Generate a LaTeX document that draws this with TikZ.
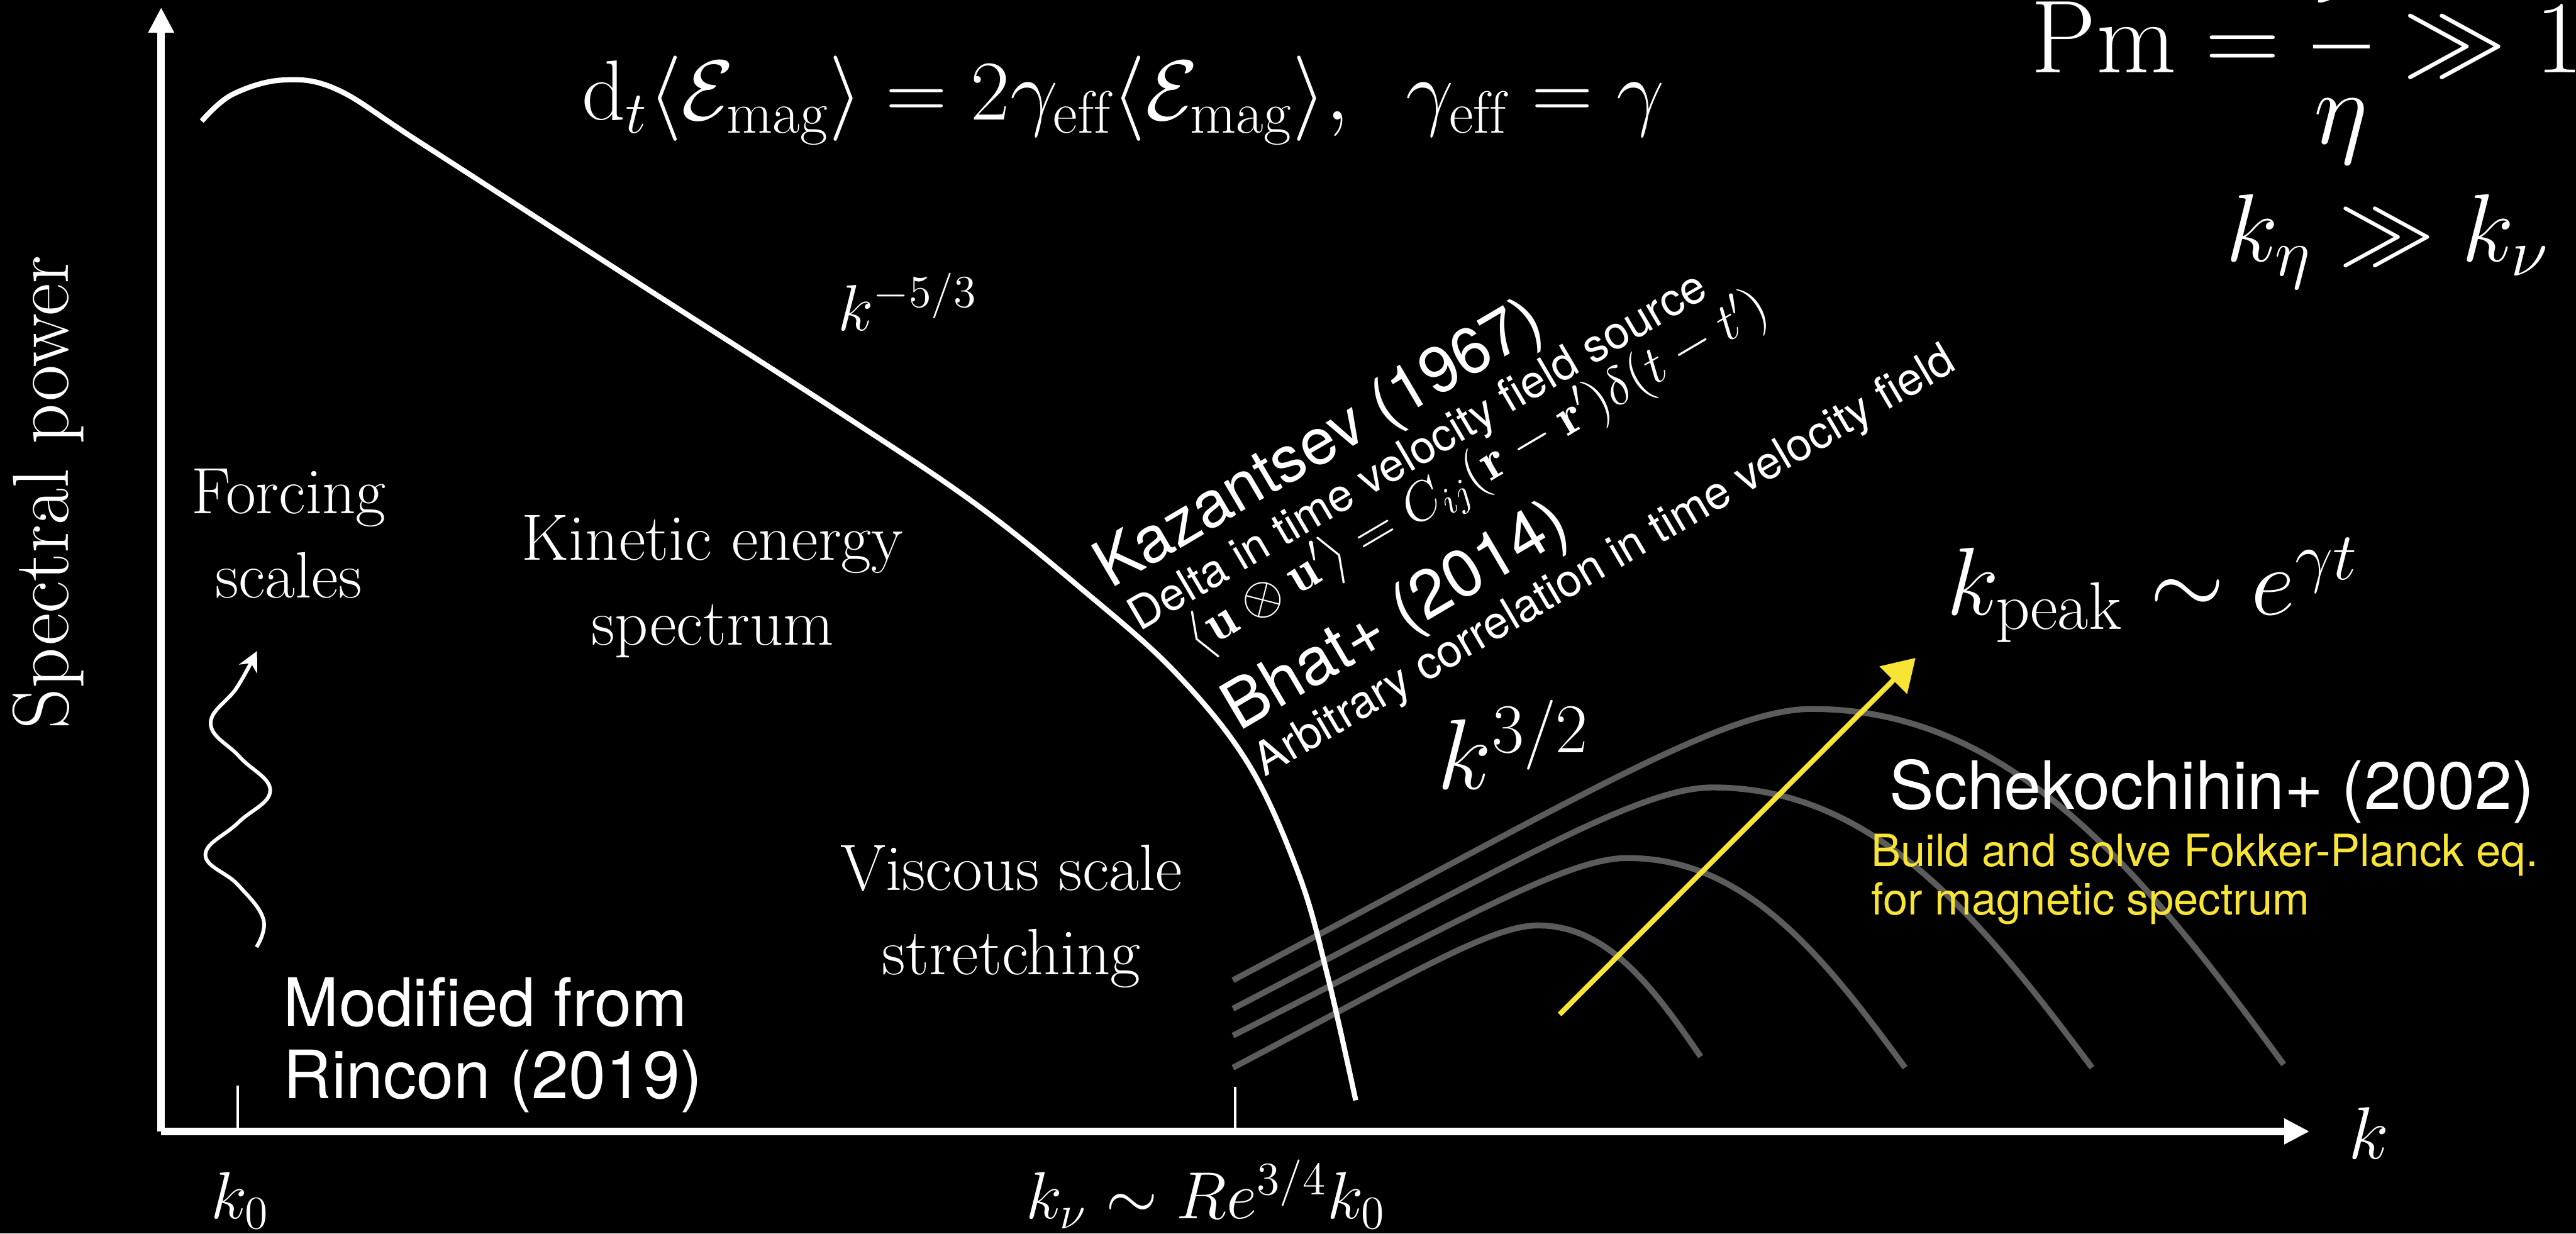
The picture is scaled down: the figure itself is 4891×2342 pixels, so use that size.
\documentclass[tikz,border=0pt]{standalone}
\usepackage{fix-cm}
\usepackage{amsmath}
\usepackage{fontspec}
\newfontfamily\helv{TeX Gyre Heros}
\usepackage{xcolor}
\usepackage{tikz}
\usetikzlibrary{arrows.meta,positioning}
\definecolor{hump}{RGB}{92,92,92}
\definecolor{sunny}{RGB}{248,228,52}

\begin{document}
\begin{tikzpicture}[x=0.05mm, y=-0.05mm,
axisline/.style={white, line width=2pt, -{Triangle[width=2.3mm,length=2.4mm]}},
axtick/.style={white, line width=0.7pt},
kinspec/.style={white, line width=1.4pt},
magspec/.style={hump, line width=1.6pt},
growth/.style={sunny, line width=1.4pt, -{Triangle[width=3.6mm,length=3mm]}},
forcing/.style={white, line width=1pt, -{Stealth[width=1.9mm,length=1.9mm]}},
cmlabel/.style={text=white, align=center, inner sep=0pt, font=\fontsize{17.7}{22.8}\selectfont},
helvlabel/.style={text=white, align=left, inner sep=0pt},
slanted/.style={text=white, inner sep=0pt, rotate=30.5, anchor=base west}
]
\fill[black] (0,0) rectangle (4891,2342);
\useasboundingbox (0,0) rectangle (4891,2342);

\coordinate (origin) at (306,2148);
\coordinate (ytop) at (306,14);
\coordinate (xend) at (4385,2148);
\coordinate (k0foot) at (451,2148);
\coordinate (k0head) at (451,2061);
\coordinate (knufoot) at (2345,2148);
\coordinate (knuhead) at (2345,2063);
\coordinate (growstart) at (2961,1926);
\coordinate (growend) at (3637,1249);

\foreach \px/\py/\sy/\ex/\ey in {3440/1346/1861/4336/2021, 3252/1495/1915/3972/2027, 3090/1629/1966/3617/2027, 2920/1757/2027/3229/2006}
  \draw[magspec] (2341,\sy) .. controls ({\px-0.4*(\px-2341)},{\py+0.322*(\sy-\py)}) and ({\px-0.15*(\px-2341)},\py) .. (\px,\py)
    .. controls ({\px+0.427*(\ex-\px)},\py) and ({\px+0.706*(\ex-\px)},{\py+0.467*(\ey-\py)}) .. (\ex,\ey);

\draw[kinspec] plot[smooth, tension=0.6] coordinates {(383,230) (440,180) (536,152) (640,170) (800,272) (1200,530) (1600,787) (1850,955) (2050,1115) (2230,1275) (2370,1450) (2466,1660) (2520,1850) (2574,2089)};

\draw[axisline] (origin) -- (ytop);
\draw[axisline] (origin) -- (xend);
\draw[axtick] (k0foot) -- (k0head);
\draw[axtick] (knufoot) -- (knuhead);

\draw[forcing] plot[smooth, tension=0.7] coordinates {(487,1798) (500,1745) (452,1680) (390,1623) (452,1562) (513,1501) (455,1437) (400,1374) (450,1305) (488,1236)};

\draw[growth] (growstart) -- (growend);

\node[text=white, rotate=90, anchor=base, inner sep=0pt, font=\fontsize{21.5}{26}\selectfont] (ylabel) at (130,935) {Spectral power};
\node[text=white, anchor=base, inner sep=0pt, font=\fontsize{20}{24}\selectfont] (klabel) at (4498,2200) {$k$};
\node[text=white, anchor=base, inner sep=0pt, font=\fontsize{18}{22}\selectfont] (k0label) at (456,2314) {$k_0$};
\node[text=white, anchor=base, inner sep=0pt, font=\fontsize{18}{22}\selectfont] (knulabel) at (2290,2314) {$k_\nu \sim Re^{3/4} k_0$};

\node[cmlabel, anchor=base] (forcingscales) at (548,1135) {Forcing\\scales};
\node[cmlabel, anchor=base] (kinetic) at (1353,1224) {Kinetic energy\\spectrum};
\node[cmlabel, anchor=base] (viscous) at (1920,1850) {Viscous scale\\stretching};
\node[text=white, anchor=base west, inner sep=0pt, font=\fontsize{17.6}{22}\selectfont] (kolmo) at (1590,628) {$k^{-5/3}$};

\node[helvlabel, anchor=base west, font=\helv\fontsize{18}{19.5}\selectfont] (rincon) at (537,2085) {Modified from\\Rincon (2019)};

\node[text=white, anchor=base west, inner sep=0pt, font=\fontsize{23}{27}\selectfont] (growtheq) at (1104,228) {$\mathrm{d}_t\langle\mathcal{E}_{\mathrm{mag}}\rangle = 2\gamma_{\mathrm{eff}}\langle\mathcal{E}_{\mathrm{mag}}\rangle,\enspace \gamma_{\mathrm{eff}} = \gamma$};
\node[text=white, anchor=base west, inner sep=0pt, font=\fontsize{28}{34}\selectfont] (prandtl) at (3855,138) {$\mathrm{Pm} = \dfrac{\nu}{\eta} \gg 1$};
\node[text=white, anchor=base west, inner sep=0pt, font=\fontsize{26}{32}\selectfont] (scales) at (4225,496) {$k_\eta \gg k_\nu$};

\node[slanted, font=\helv\fontsize{17.5}{20}\selectfont] (kazantsev) at (2108,1119) {Kazantsev (1967)};
\node[slanted, font=\helv\fontsize{12.3}{14}\selectfont] (deltasrc) at (2163,1200) {Delta in time velocity field source};
\node[slanted, font=\fontsize{14.5}{17}\selectfont] (corr) at (2273,1243) {$\langle\mathbf{u}\otimes\mathbf{u}'\rangle = C_{ij}(\mathbf{r}-\mathbf{r}')\delta(t-t')$};
\node[slanted, font=\helv\fontsize{18}{20}\selectfont] (bhat) at (2352,1390) {Bhat+ (2014)};
\node[slanted, font=\helv\fontsize{12.3}{14}\selectfont] (arbitrary) at (2401,1476) {Arbitrary correlation in time velocity field};

\node[text=white, anchor=base west, inner sep=0pt, font=\fontsize{27}{32}\selectfont] (slope) at (2728,1498) {$k^{3/2}$};
\node[text=white, anchor=base west, inner sep=0pt, font=\fontsize{26}{32}\selectfont] (kpeak) at (3695,1167) {$k_{\mathrm{peak}} \sim e^{\gamma t}$};

\node[helvlabel, anchor=base west, font=\helv\fontsize{18}{22}\selectfont] (schek) at (3586,1536) {Schekochihin+ (2002)};
\node[helvlabel, text=sunny, anchor=base west, font=\helv\fontsize{12}{13.1}\selectfont] (fokker) at (3551,1737) {Build and solve Fokker-Planck eq.\\for magnetic spectrum};
\end{tikzpicture}
\end{document}
